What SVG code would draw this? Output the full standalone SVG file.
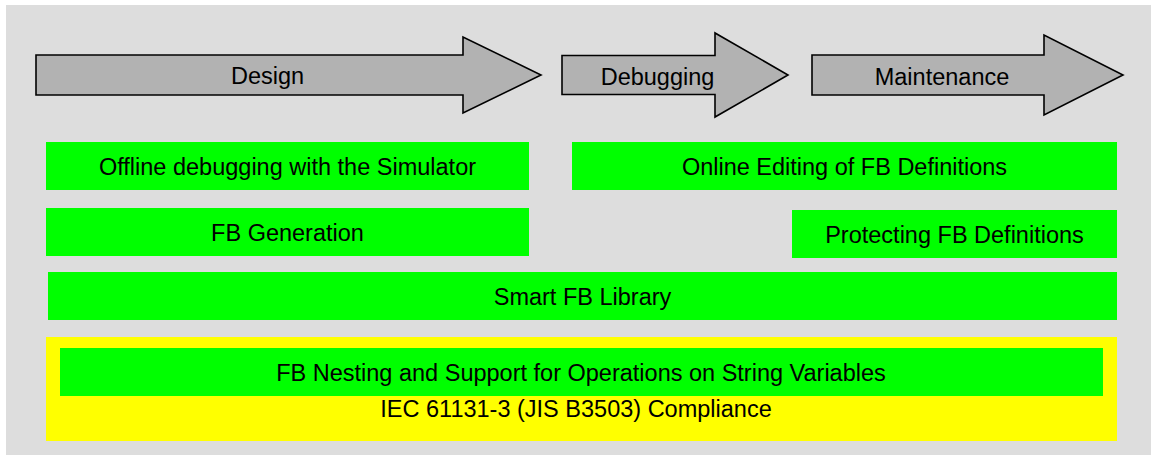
<svg xmlns="http://www.w3.org/2000/svg" width="1151" height="455" viewBox="0 0 1151 455">
<style>
.arrow{fill:#B2B2B2;stroke:#000;stroke-width:1.6;stroke-linejoin:miter}
.g{fill:#00FF00}
.y{fill:#FFFF00}
text{font-family:"Liberation Sans",Arial,sans-serif;font-size:23.5px;fill:#000;text-anchor:middle}
</style>
<rect x="6" y="5" width="1145" height="450" fill="#DDDDDD"/>
<g id="arrow-design">
<path class="arrow" d="M36,55 H463 V37 L541,75 L463,113 V95 H36 Z"/>
<text x="267.5" y="84">Design</text>
</g>
<g id="arrow-debugging">
<path class="arrow" d="M562,55.5 H715 V33 L788,75 L715,117 V94.5 H562 Z"/>
<text x="657.5" y="85">Debugging</text>
</g>
<g id="arrow-maintenance">
<path class="arrow" d="M812,55 H1044 V35 L1123,75 L1044,115 V95 H812 Z"/>
<text x="942" y="85">Maintenance</text>
</g>
<g id="offline">
<rect class="g" x="46" y="142" width="483" height="48"/>
<text x="287.5" y="175">Offline debugging with the Simulator</text>
</g>
<g id="online">
<rect class="g" x="572" y="142" width="545" height="48"/>
<text x="844.5" y="175">Online Editing of FB Definitions</text>
</g>
<g id="fbgen">
<rect class="g" x="46" y="208" width="483" height="48"/>
<text x="287.5" y="241">FB Generation</text>
</g>
<g id="protecting">
<rect class="g" x="792" y="210" width="325" height="48"/>
<text x="954.5" y="243">Protecting FB Definitions</text>
</g>
<g id="smartlib">
<rect class="g" x="48" y="272" width="1069" height="48"/>
<text x="582.5" y="305">Smart FB Library</text>
</g>
<g id="iec">
<rect class="y" x="46" y="337" width="1071" height="104"/>
<text x="576" y="417">IEC 61131-3 (JIS B3503) Compliance</text>
</g>
<g id="nesting">
<rect class="g" x="60" y="348" width="1043" height="48"/>
<text x="581" y="381">FB Nesting and Support for Operations on String Variables</text>
</g>
<g id="connectors"></g>
</svg>
